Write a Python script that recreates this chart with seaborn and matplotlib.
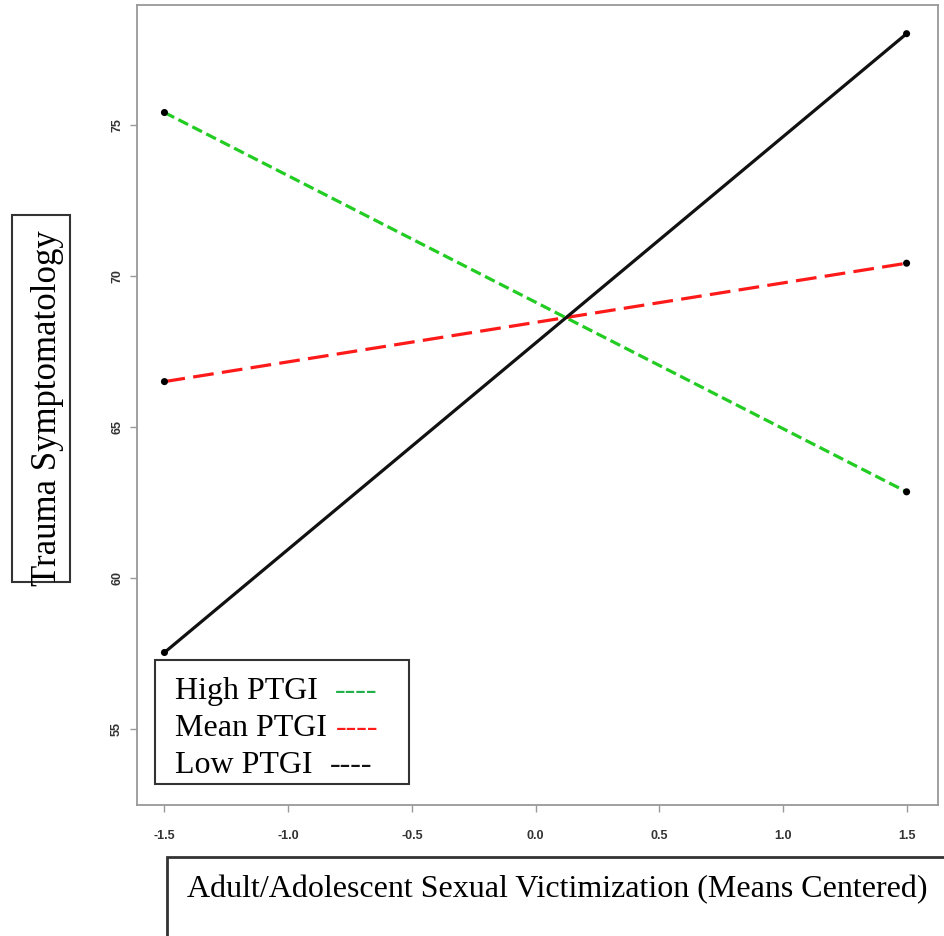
import matplotlib
matplotlib.use("Agg")
import matplotlib.pyplot as plt
from matplotlib.patches import Rectangle
import seaborn as sns
import pandas as pd

# data
x_levels = [-1.5, 1.5]
groups = ["High PTGI", "Mean PTGI", "Low PTGI"]
high_vals = [75.41, 62.85]
mean_vals = [66.50, 70.42]
low_vals = [57.53, 78.02]
x_ticks = [-1.5, -1.0, -0.5, 0.0, 0.5, 1.0, 1.5]
y_ticks = [55, 60, 65, 70, 75]

rows = []
for g, vals in zip(groups, [high_vals, mean_vals, low_vals]):
    for xv, yv in zip(x_levels, vals):
        rows.append({"x": xv, "y": yv, "group": g})
df = pd.DataFrame(rows)

sns.set_style("white")
plt.rcParams["font.family"] = ["Liberation Serif", "DejaVu Serif"]

W, H = 945, 936
fig = plt.figure(figsize=(W / 100, H / 100), dpi=100)
ax = fig.add_axes([137 / W, 1 - 805 / H, (938 - 137) / W, (805 - 5) / H])

palette = {"High PTGI": "#22cc22", "Mean PTGI": "#ff1a1a", "Low PTGI": "#111111"}
dashes = {"High PTGI": (3.4, 1.5), "Mean PTGI": (6.5, 2.6), "Low PTGI": ""}
sns.lineplot(data=df, x="x", y="y", hue="group", style="group",
             palette=palette, dashes=dashes, linewidth=2.3, legend=False, ax=ax,
             hue_order=groups, style_order=groups)
sns.scatterplot(data=df, x="x", y="y", color="black", s=26, edgecolor="none",
                legend=False, ax=ax, zorder=5)

ax.set_xlim(-1.611, 1.627)
ax.set_ylim(52.48, 78.97)
ax.set_xticks(x_ticks)
ax.set_yticks(y_ticks)
ax.set_xticklabels([f"{v:.1f}" for v in x_ticks], fontfamily="Liberation Sans",
                   fontweight="bold", fontsize=9, color="#333333")
ax.set_yticklabels([str(v) for v in y_ticks], fontfamily="Liberation Sans",
                   fontweight="bold", fontsize=9, color="#333333",
                   rotation=90, va="center")
ax.tick_params(axis="x", direction="out", length=5, width=1.0, color="#999999", pad=13, bottom=True)
ax.tick_params(axis="y", direction="out", length=5, width=1.0, color="#999999", pad=5, left=True)
ax.set_xlabel("")
ax.set_ylabel("")
for sp in ax.spines.values():
    sp.set_color("#999999")
    sp.set_linewidth(1.3)

def fx(px):
    return px / W

def fy(py):
    return 1 - py / H

# legend box
fig.patches.append(Rectangle((fx(155), fy(784)), fx(409) - fx(155), fy(660) - fy(784),
                             transform=fig.transFigure, fill=True, facecolor="white",
                             edgecolor="#333333", linewidth=1.5, zorder=10))
leg_rows = [("High PTGI", 699, "#22b04a", 335),
            ("Mean PTGI", 736, "#ff1a1a", 336),
            ("Low PTGI", 773, "#111111", 330)]
for label, base, col, dx in leg_rows:
    fig.text(fx(175), fy(base), label, fontsize=23, va="baseline", ha="left",
             color="black", zorder=11)
    fig.text(fx(dx), fy(base), "----", fontsize=23, va="baseline", ha="left",
             color=col, zorder=11)

# y label box
fig.patches.append(Rectangle((fx(12), fy(582)), fx(70) - fx(12), fy(215) - fy(582),
                             transform=fig.transFigure, fill=False,
                             edgecolor="#333333", linewidth=1.5))
fig.text(fx(48), fy(408), "Trauma Symptomatology", fontsize=25, rotation=90,
         va="center", ha="center", color="black")

# x label box (cut by figure edge)
fig.patches.append(Rectangle((fx(167), fy(960)), fx(960) - fx(167), fy(857) - fy(960),
                             transform=fig.transFigure, fill=False,
                             edgecolor="#333333", linewidth=2.0))
fig.text(fx(187), fy(897), "Adult/Adolescent Sexual Victimization (Means Centered)",
         fontsize=23, va="baseline", ha="left", color="black")

fig.savefig("out.png", dpi=100)
